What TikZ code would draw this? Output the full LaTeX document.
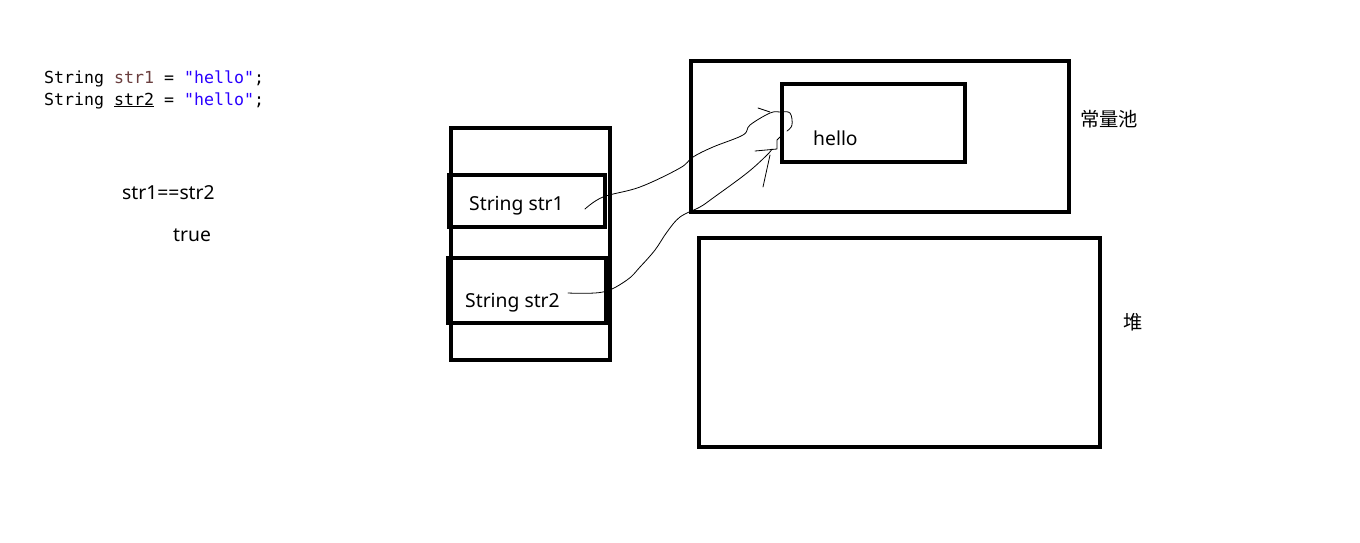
\documentclass[tikz,border=0pt]{standalone}
\usepackage{fontspec}
\setmainfont{Noto Sans}
\newfontfamily\codefont{DejaVu Sans Mono}
\newfontfamily\cjk{Noto Sans CJK SC}
\definecolor{varbrown}{HTML}{6A3E3E}
\definecolor{strblue}{HTML}{2A00FF}
\begin{document}
\begin{tikzpicture}[x=1pt,y=-1pt,
  memblock/.style={draw=black,line width=4pt,fill=none},
  label/.style={inner sep=0pt,font=\fontsize{19.3}{21}\selectfont},
  code/.style={inner sep=0pt,anchor=base west,font=\codefont\fontsize{16.6}{18}\selectfont},
  handline/.style={draw=black,line width=0.8pt,line cap=round,line join=round}]
\useasboundingbox[fill=white] (0,0) rectangle (1360,542);
% code
\node[code] (c1) at (44,83) {String \textcolor{varbrown}{str1} = \textcolor{strblue}{"hello"};};
\node[code] (c2) at (44,105) {String \underline{str2} = \textcolor{strblue}{"hello"};};
\node[label,anchor=base west] (cmp) at (122,199) {str1==str2};
\node[label,anchor=base west] (res) at (173,241) {true};
% stack
\draw[memblock] (451,128) rectangle (610,360);
\draw[memblock] (449,175) rectangle (605,227);
\draw[memblock] (448,258) rectangle (606,323);
\node[label,anchor=base west] (s1) at (469,210) {String str1};
\node[label,anchor=base west] (s2) at (465,307) {String str2};
% constant pool
\draw[memblock] (691,61) rectangle (1069,212);
\draw[memblock,line width=4.5pt] (782,84) rectangle (965,162);
\node[label,anchor=base west] (h) at (813,145) {hello};
\node[label,anchor=west] (pool) at (1080,119) {\cjk 常量池};
% heap
\draw[memblock] (699,238) rectangle (1100,447);
\node[label,anchor=west] (heap) at (1123,322) {\cjk 堆};
% hand-drawn pointers
\coordinate (a1) at (585,209);
\coordinate (a2) at (568,293);
\draw[handline] plot[smooth,tension=0.6] coordinates {(a1) (603,197) (640,187) (680,168) (693,157) (713,147) (743,135) (750,125) (770,113) (780,112) (790,113) (792,125) (787,131)};
\draw[handline] (758,108) -- (770,112);
\draw[handline] plot[smooth,tension=0.6] coordinates {(a2) (603,292) (627,280) (640,267) (655,250) (667,232) (680,217) (700,207) (713,198) (747,173) (767,155) (772,149)};
\draw[handline] (755,151) -- (777,149) -- (777,140) -- (780,137);
\draw[handline] (763,187) -- (770,155);
\end{tikzpicture}
\end{document}
